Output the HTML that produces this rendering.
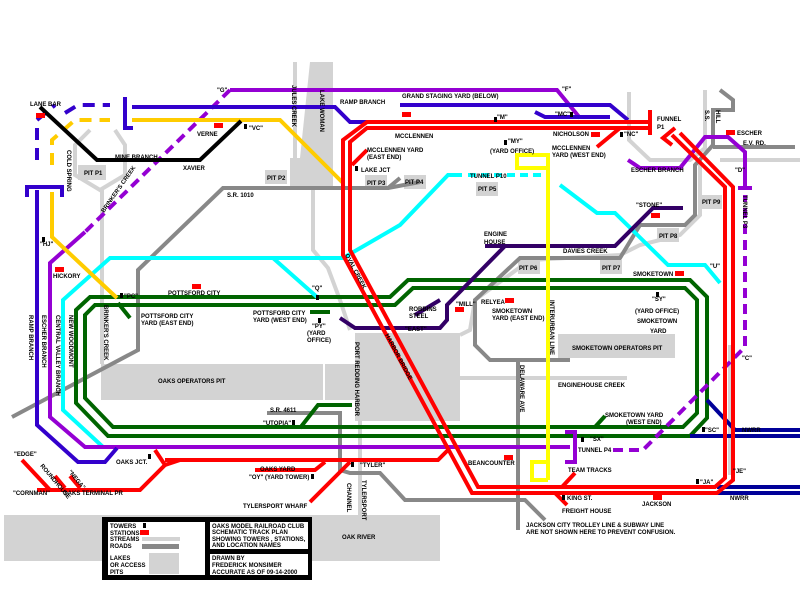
<!DOCTYPE html>
<html><head><meta charset="utf-8"><style>
html,body{margin:0;padding:0;background:#fff;}
svg{display:block;}
text{font-family:"Liberation Sans",sans-serif;font-size:6px;fill:#000;}
</style></head><body>
<svg width="800" height="600" viewBox="0 0 800 600" xmlns="http://www.w3.org/2000/svg">
<rect width="800" height="600" fill="#fff"/>
<g fill="#d3d3d3">
<rect x="4" y="515" width="436" height="46"/>
<rect x="101" y="364" width="222" height="36"/>
<rect x="325" y="364" width="30" height="36"/>
<rect x="355" y="333" width="105" height="88"/>
<rect x="558" y="334" width="117" height="24"/>
<polygon points="310,62 333,62 333,188 290,188 290,158 300,158"/>
<rect x="78" y="165" width="28" height="15"/>
<rect x="265" y="170" width="22" height="14"/>
<rect x="365" y="175" width="22" height="14"/>
<rect x="404" y="175" width="22" height="14"/>
<rect x="476" y="182" width="22" height="14"/>
<rect x="518" y="260" width="22" height="14"/>
<rect x="600" y="260" width="22" height="14"/>
<rect x="657" y="228" width="22" height="14"/>
<rect x="700" y="195" width="22" height="14"/>
</g>
<g fill="none" stroke="#d3d3d3" stroke-width="4">
<polyline points="90,130 75,145 75,175 100,190 125,175 125,145 115,130"/>
<polyline points="102,190 102,364"/>
<polyline points="295,62 295,160"/>
<polyline points="313,188 313,250 328,268 340,300 350,330"/>
<polyline points="629,92 629,140 650,160 690,160 705,148 705,90"/>
<polyline points="720,160 800,160"/>
<polyline points="460,378 627,378"/>
<polyline points="700,160 700,215 680,235 640,245 620,255 530,260 475,300 470,330 460,335"/>
<polyline points="730,345 730,475"/>
<polyline points="360,420 360,515"/>
</g>
<g fill="none" stroke="#888" stroke-width="4">
<polyline points="12,417 138,350 138,270 223,188 388,188 400,178"/>
<polyline points="267,413 340,413 340,470 350,473 380,473 405,500 525,500 545,520"/>
<polyline points="518,362 518,530"/>
<polyline points="570,360 490,360 475,345 475,300 520,258 620,258 640,225 685,225 695,215 695,165 713,145 713,110 733,110 733,100 720,90"/>
<polyline points="713,147 795,147"/>
<polyline points="388,188 420,182"/>
</g>
<g fill="none" stroke="#006400" stroke-width="4">
<polygon points="76,310 90,297 390,297 408,280 690,280 707,297 707,418 690,436 108,436 76,403"/>
<polygon points="85,315 95,305 395,305 413,288 685,288 697,300 697,413 683,427 113,427 85,398"/>
<polyline points="118,303 130,318"/>
<polyline points="300,428 318,405 352,405"/>
<polyline points="595,427 605,416"/>
<polyline points="310,312 330,312"/>
</g>
<g fill="none" stroke="#00ffff" stroke-width="4">
<polyline points="103,447 63,410 63,300 110,258 343,258 400,225 448,175 462,175"/>
<polyline points="273,258 317,297"/>
<polyline points="560,185 597,213 615,213 668,265 705,265 720,283"/>
<polyline points="468,175 545,175" stroke-dasharray="8,5"/>
</g>
<g fill="none" stroke="#330066" stroke-width="4">
<polyline points="485,246 615,246 653,208 683,208"/>
<polyline points="505,246 447,305 447,320 440,328 355,328 340,318"/>
<polyline points="440,300 415,315"/>
</g>
<g fill="none" stroke="#9400d3" stroke-width="4">
<polyline points="230,90 557,90 580,118" />
<polyline points="85,232 50,263 50,417 85,447 570,447"/>
<polyline points="565,432 575,432 575,462 565,462"/>
<polyline points="628,160 640,168 680,168 705,137 728,137 745,152 745,188"/>
<polyline points="738,188 752,188"/>
<polyline points="230,90 85,232" stroke-dasharray="10,6"/>
<polyline points="613,450 643,450 745,347 745,195" stroke-dasharray="10,6"/>
</g>
<g fill="none" stroke="#3300cc" stroke-width="4">
<polyline points="132,107 335,107 350,122 400,122"/>
<polyline points="400,105 610,105 628,120"/>
<polyline points="535,112 545,117 610,117"/>
<polyline points="125,97 125,128 133,128"/>
<polyline points="37,190 37,425 78,462 105,462 117,448"/>
<polyline points="27,197 27,187 62,187 62,197"/>
<polyline points="65,113 78,105 110,105" stroke-dasharray="12,8"/>
<polyline points="37,160 37,120 55,105" stroke-dasharray="12,8"/>
</g>
<g fill="none" stroke="#000099" stroke-width="4">
<polyline points="707,400 735,430 800,430"/>
<polyline points="690,436 800,436"/>
<polyline points="717,487 800,487"/>
<polyline points="717,493 800,493"/>
</g>
<g fill="none" stroke="#ffcc00" stroke-width="4">
<polyline points="132,120 280,120 343,183"/>
<polyline points="52,192 52,237 117,298"/>
<polyline points="52,165 52,140 75,120 110,120" stroke-dasharray="12,8"/>
</g>
<polyline points="40,107 97,160 200,160 241,121" fill="none" stroke="#000" stroke-width="4"/>
<g fill="none" stroke="#ffff00" stroke-width="4">
<polyline points="548,480 548,155 517,155 517,168 548,168"/>
<polyline points="548,480 532,480 532,462 548,462"/>
</g>
<g fill="none" stroke="#ff0000" stroke-width="4">
<polyline points="648,122 367,122 343,140 343,255 472,493 717,493 733,480 733,187 680,133"/>
<polyline points="648,128 367,128 350,142 350,250 478,487 715,487 725,478 725,187 672,135"/>
<polyline points="650,110 650,135"/>
<polyline points="675,128 663,138 672,145"/>
<polyline points="352,165 367,150"/>
<polyline points="597,147 620,128"/>
<polyline points="165,460 438,460 448,450"/>
<polyline points="255,470 315,470 325,462"/>
<polyline points="37,490 140,490 165,465 155,450"/>
<polyline points="165,465 180,460"/>
<polyline points="310,502 350,462"/>
<polyline points="22,460 50,490"/>
<polyline points="55,476 65,488"/>
<polyline points="70,476 80,488"/>
<polyline points="575,473 562,487"/>
<polyline points="555,493 567,505"/>
</g>
<g fill="#ff0000">
<rect x="36" y="113" width="9" height="5"/><rect x="214" y="123" width="9" height="5"/>
<rect x="55" y="267" width="9" height="5"/><rect x="192" y="284" width="9" height="5"/>
<rect x="402" y="112" width="9" height="5"/><rect x="591" y="132" width="9" height="5"/>
<rect x="726" y="130" width="9" height="5"/><rect x="651" y="213" width="9" height="5"/>
<rect x="675" y="271" width="9" height="5"/><rect x="505" y="298" width="9" height="5"/>
<rect x="455" y="307" width="9" height="5"/><rect x="504" y="455" width="9" height="5"/>
<rect x="653" y="495" width="9" height="5"/>
</g>
<g fill="#000">
<rect x="244" y="124" width="3" height="5"/><rect x="42" y="237" width="3" height="5"/>
<rect x="120" y="293" width="3" height="5"/><rect x="316" y="295" width="3" height="5"/>
<rect x="494" y="117" width="3" height="5"/><rect x="570" y="112" width="3" height="5"/>
<rect x="620" y="132" width="3" height="5"/><rect x="504" y="140" width="3" height="5"/>
<rect x="355" y="166" width="3" height="5"/><rect x="656" y="292" width="3" height="5"/>
<rect x="148" y="454" width="3" height="5"/><rect x="311" y="474" width="3" height="5"/>
<rect x="351" y="462" width="3" height="5"/><rect x="292" y="420" width="3" height="5"/>
<rect x="581" y="437" width="3" height="5"/><rect x="562" y="495" width="3" height="5"/>
<rect x="696" y="479" width="3" height="5"/><rect x="702" y="427" width="3" height="5"/>
<rect x="318" y="318" width="3" height="5"/>
</g>
<g style="font-weight:bold;font-size:5.5px">
<text x="30" y="106">LANE BAR</text>
<text x="197" y="136">VERNE</text><text x="249" y="130">"VC"</text>
<text x="115" y="159">MINE BRANCH</text><text x="183" y="170">XAVIER</text>
<text x="84" y="175">PIT P1</text><text x="267" y="180">PIT P2</text>
<text x="367" y="185">PIT P3</text><text x="405" y="184">PIT P4</text>
<text x="478" y="191">PIT P5</text><text x="519" y="270">PIT P6</text>
<text x="602" y="270">PIT P7</text><text x="659" y="238">PIT P8</text>
<text x="702" y="204">PIT P9</text>
<text x="227" y="197">S.R. 1010</text>
<text x="217" y="92">"G"</text><text x="562" y="91">"F"</text>
<text x="402" y="98">GRAND STAGING YARD (BELOW)</text>
<text x="340" y="104">RAMP BRANCH</text>
<text x="395" y="138">MCCLENNEN</text><text x="497" y="119">"M"</text>
<text x="555" y="116">"MC"</text><text x="553" y="136">NICHOLSON</text>
<text x="624" y="136">"NC"</text><text x="657" y="121">FUNNEL</text><text x="657" y="129">P1</text>
<text x="367" y="152">MCCLENNEN YARD</text><text x="367" y="159">(EAST END)</text>
<text x="361" y="172">LAKE JCT</text><text x="508" y="143">"MY"</text>
<text x="490" y="153">(YARD OFFICE)</text>
<text x="552" y="150">MCCLENNEN</text><text x="552" y="157">YARD (WEST END)</text>
<text x="631" y="172">ESCHER BRANCH</text><text x="737" y="135">ESCHER</text>
<text x="743" y="145">E.V. RD.</text><text x="735" y="172">"D"</text>
<text x="470" y="178">TUNNEL P10</text><text x="636" y="207">"STONE"</text>
<text x="484" y="236">ENGINE</text><text x="484" y="244">HOUSE</text>
<text x="563" y="253">DAVIES CREEK</text><text x="633" y="276">SMOKETOWN</text>
<text x="710" y="268">"U"</text>
<text x="312" y="290">"Q"</text><text x="168" y="295">POTTSFORD CITY</text>
<text x="124" y="298">"PC"</text><text x="53" y="278">HICKORY</text><text x="40" y="246">"HJ"</text>
<text x="141" y="318">POTTSFORD CITY</text><text x="141" y="325">YARD (EAST END)</text>
<text x="253" y="315">POTTSFORD CITY</text><text x="253" y="322">YARD (WEST END)</text>
<text x="312" y="328">"PY"</text><text x="307" y="335">(YARD</text><text x="307" y="342">OFFICE)</text>
<text x="409" y="311">ROBBINS</text><text x="409" y="318">STEEL</text>
<text x="456" y="306">"MILL"</text><text x="481" y="304">RELYEA</text>
<text x="492" y="313">SMOKETOWN</text><text x="492" y="320">YARD (EAST END)</text>
<text x="405" y="331">"EAST"</text>
<text x="652" y="301">"SY"</text><text x="635" y="313">(YARD OFFICE)</text>
<text x="637" y="323">SMOKETOWN</text><text x="650" y="333">YARD</text>
<text x="572" y="350">SMOKETOWN OPERATORS PIT</text>
<text x="558" y="387">ENGINEHOUSE CREEK</text>
<text x="605" y="417">SMOKETOWN YARD</text><text x="626" y="424">(WEST END)</text>
<text x="158" y="383">OAKS OPERATORS PIT</text>
<text x="270" y="412">S.R. 4611</text><text x="263" y="425">"UTOPIA"</text>
<text x="590" y="441">"SX"</text><text x="578" y="452">TUNNEL P4</text>
<text x="468" y="465">BEANCOUNTER</text><text x="568" y="472">TEAM TRACKS</text>
<text x="567" y="500">KING ST.</text><text x="562" y="513">FREIGHT HOUSE</text>
<text x="642" y="506">JACKSON</text><text x="700" y="484">"JA"</text>
<text x="733" y="473">"JE"</text><text x="742" y="432">NWRR</text><text x="730" y="500">NWRR</text>
<text x="705" y="432">"SC"</text><text x="742" y="360">"C"</text>
<text x="14" y="456">"EDGE"</text><text x="13" y="495">"CORNMAN"</text>
<text x="63" y="495">OAKS TERMINAL PR</text><text x="116" y="464">OAKS JCT.</text>
<text x="260" y="471">OAKS YARD</text><text x="249" y="479">"OY" (YARD TOWER)</text>
<text x="360" y="467">"TYLER"</text><text x="243" y="508">TYLERSPORT WHARF</text>
<text x="342" y="539">OAK RIVER</text>
<text x="526" y="527">JACKSON CITY TROLLEY LINE &amp; SUBWAY LINE</text>
<text x="526" y="534">ARE NOT SHOWN HERE TO PREVENT CONFUSION.</text>
<text transform="translate(29,315) rotate(90)">RAMP BRANCH</text>
<text transform="translate(42,315) rotate(90)">ESCHER BRANCH</text>
<text transform="translate(56,315) rotate(90)">CENTRAL VALLEY BRANCH</text>
<text transform="translate(69,315) rotate(90)">NEW WOODMONT</text>
<text transform="translate(104,305) rotate(90)">BRINKER'S CREEK</text>
<text transform="translate(292,85) rotate(90)">JULES CREEK</text>
<text transform="translate(320,90) rotate(90)">LAKE WOMAN</text>
<text transform="translate(355,342) rotate(90)">PORT REDDING HARBOR</text>
<text transform="translate(520,365) rotate(90)">DELAWARE AVE</text>
<text transform="translate(550,300) rotate(90)">INTERURBAN LINE</text>
<text transform="translate(347,483) rotate(90)">CHANNEL</text>
<text transform="translate(362,480) rotate(90)">TYLERSPORT</text>
<text transform="translate(743,195) rotate(90)">TUNNEL P3</text>
<text transform="translate(67,150) rotate(90)">COLD SPRING</text>
<text transform="translate(705,110) rotate(90)">S.S.</text>
<text transform="translate(716,110) rotate(90)">HILL</text>
<text transform="translate(104,213) rotate(-55)">BRINKER'S CREEK</text>
<text transform="translate(345,255) rotate(62)">OVAL CREEK</text>
<text transform="translate(385,335) rotate(62)">HARBOR BRIDGE</text>
<text transform="translate(40,466) rotate(50)">ROUNDHOUSE</text>
<text transform="translate(68,472) rotate(50)">"NEGA"</text>
</g>
<rect x="102" y="517" width="210" height="63" fill="#000"/>
<rect x="108" y="522" width="97" height="53" fill="#fff"/>
<rect x="210" y="522" width="98" height="27" fill="#fff"/>
<rect x="210" y="554" width="98" height="21" fill="#fff"/>
<g style="font-weight:bold;font-size:5.5px">
<text x="110" y="528">TOWERS</text>
<text x="110" y="535">STATIONS</text>
<text x="110" y="541">STREAMS</text>
<text x="110" y="548">ROADS</text>
<text x="110" y="560">LAKES</text><text x="110" y="567">OR ACCESS</text><text x="110" y="574">PITS</text>
<text x="212" y="528">OAKS MODEL RAILROAD CLUB</text>
<text x="212" y="534">SCHEMATIC TRACK PLAN</text>
<text x="212" y="541">SHOWING TOWERS , STATIONS,</text>
<text x="212" y="547">AND LOCATION NAMES</text>
<text x="212" y="560">DRAWN BY</text>
<text x="212" y="567">FREDERICK MONSIMER</text>
<text x="212" y="574">ACCURATE AS OF 09-14-2000</text>
</g>
<rect x="143" y="523" width="3" height="5" fill="#000"/>
<rect x="140" y="530" width="9" height="5" fill="#f00"/>
<rect x="142" y="537" width="38" height="4" fill="#d3d3d3"/>
<rect x="142" y="544" width="37" height="5" fill="#888"/>
<rect x="149" y="553" width="30" height="21" fill="#d3d3d3"/>
</svg>
</body></html>
